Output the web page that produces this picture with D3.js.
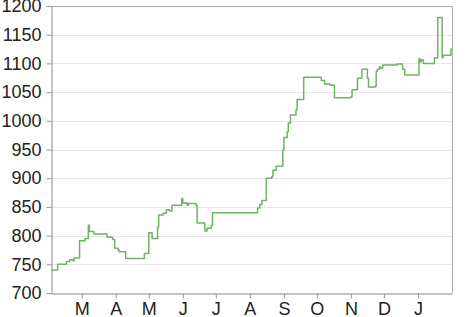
<!DOCTYPE html>
<html lang="en">
    <head>
        <meta charset="utf-8">
        <title>Price line</title>
        <script type="text/javascript" src="https://d3js.org/d3.v7.min.js"></script>
        <style type="text/css">
            body { margin: 0; background: #fff; }
            .axis text { font-family: "Liberation Sans", Arial, sans-serif; font-size: 18px; fill: #222; }
            .axis path, .axis line { stroke: #999; }
        </style>
    </head>
    <body>
        <script type="text/javascript">

    // data
    var dates = [
        "2013-02-01","2013-02-06","2013-02-07","2013-02-15","2013-02-18","2013-02-21","2013-02-22","2013-02-26","2013-02-27",
        "2013-03-04","2013-03-07","2013-03-08","2013-03-12","2013-03-24","2013-03-29","2013-03-31",
        "2013-04-03","2013-04-04","2013-04-10","2013-04-26","2013-04-27","2013-04-30","2013-05-01","2013-05-04",
        "2013-05-09","2013-05-10","2013-05-14","2013-05-17","2013-05-20","2013-05-22","2013-05-30","2013-05-31",
        "2013-06-01","2013-06-05","2013-06-06","2013-06-13","2013-06-14","2013-06-20","2013-06-21","2013-06-23",
        "2013-06-27","2013-06-28","2013-08-06","2013-08-08","2013-08-10","2013-08-12","2013-08-15","2013-08-16",
        "2013-08-21","2013-08-22","2013-08-25","2013-08-31","2013-09-01","2013-09-04","2013-09-05","2013-09-07",
        "2013-09-12","2013-09-13","2013-09-18","2013-09-19","2013-10-04","2013-10-05","2013-10-08","2013-10-13",
        "2013-10-16","2013-10-17","2013-11-01","2013-11-02","2013-11-06","2013-11-07","2013-11-11","2013-11-15",
        "2013-11-16","2013-11-17","2013-11-23","2013-11-24","2013-11-25","2013-11-27","2013-11-28","2013-11-30",
        "2013-12-13","2013-12-17","2013-12-18","2013-12-20","2013-12-31","2014-01-02","2014-01-03","2014-01-04",
        "2014-01-06","2014-01-15","2014-01-16","2014-01-18","2014-01-19","2014-01-22","2014-01-23","2014-01-24",
        "2014-01-31","2014-02-01"
    ];
    var prices = [
        740,740,750,755,758,756,761,761,791,
        795,818,807,803,797,793,778,
        775,772,760,760,769,769,805,795,
        815,836,839,845,843,853,853,864,
        857,853,856,853,822,822,808,813,
        818,840,840,848,854,861,861,900,
        903,914,921,949,971,981,996,1010,
        1019,1037,1037,1076,1076,1070,1064,1062,
        1062,1040,1042,1054,1055,1074,1090,1090,
        1074,1059,1060,1086,1090,1094,1092,1097,
        1099,1099,1090,1080,1080,1108,1103,1106,
        1100,1100,1110,1110,1180,1180,1110,1114,
        1125,1125
    ];
    var monthTicks = ["2013-03-01","2013-04-01","2013-05-01","2013-06-01","2013-07-01","2013-08-01",
                      "2013-09-01","2013-10-01","2013-11-01","2013-12-01","2014-01-01"];
    var monthLabels = ["M","A","M","J","J","A","S","O","N","D","J"];
    var yTicks = [700, 750, 800, 850, 900, 950, 1000, 1050, 1100, 1150, 1200];

    var w = 466;
    var h = 317;
    var padLeft = 51, padRight = 452, padTop = 6, padBottom = 293;

    var parse = d3.utcParse("%Y-%m-%d");
    var points = dates.map(function(d, i) { return [parse(d), prices[i]]; });
    var tickDates = monthTicks.map(parse);

    //Create scale functions
    var xScale = d3.scaleUtc()
                    .domain([parse("2013-02-01"), parse("2014-02-01")])
                    .range([padLeft, padRight]);

    var yScale = d3.scaleLinear()
                    .domain([700, 1200])
                    .range([padBottom, padTop]);

    var svg = d3.select("body")
                .append("svg")
                .attr("width", w)
                .attr("height", h);

    // grid lines
    svg.append("g")
        .selectAll("line")
        .data(yTicks.slice(1, -1))
        .enter()
        .append("line")
        .attr("x1", padLeft)
        .attr("x2", padRight)
        .attr("y1", function(d) { return Math.round(yScale(d)) + 0.5; })
        .attr("y2", function(d) { return Math.round(yScale(d)) + 0.5; })
        .style("stroke", "#e6e6e6");

    // frame top and right
    svg.append("path")
        .attr("d", "M" + padLeft + "," + (padTop + 0.5) + "H" + (padRight + 0.5) + "V" + padBottom)
        .style("fill", "none")
        .style("stroke", "#aaa");

    //Define axes
    var xAxis = d3.axisBottom(xScale)
                    .tickValues(tickDates)
                    .tickFormat(function(d, i) { return monthLabels[i]; })
                    .tickSize(5)
                    .tickSizeOuter(0)
                    .tickPadding(4);

    var yAxis = d3.axisLeft(yScale)
                    .tickValues(yTicks)
                    .tickFormat(d3.format("d"))
                    .tickSize(5)
                    .tickSizeOuter(0)
                    .tickPadding(5);

    svg.append("g")
        .attr("class", "axis")
        .attr("transform", "translate(0," + (padBottom + 0.5) + ")")
        .call(xAxis);

    svg.append("g")
        .attr("class", "axis")
        .attr("transform", "translate(" + (padLeft + 0.5) + ",0)")
        .call(yAxis);

    svg.selectAll(".axis .domain").style("stroke", "#888");

    //Create line (stepped like the original)
    var line = d3.line()
                .curve(d3.curveStepAfter)
                .x(function(d) { return xScale(d[0]); })
                .y(function(d) { return yScale(d[1]); });

    svg.append("path")
        .datum(points)
        .attr("d", line)
        .style("fill", "none")
        .style("stroke", "#6fb463")
        .style("stroke-width", 1.5)
        .style("stroke-linejoin", "round");

        </script>
    </body>
</html>
